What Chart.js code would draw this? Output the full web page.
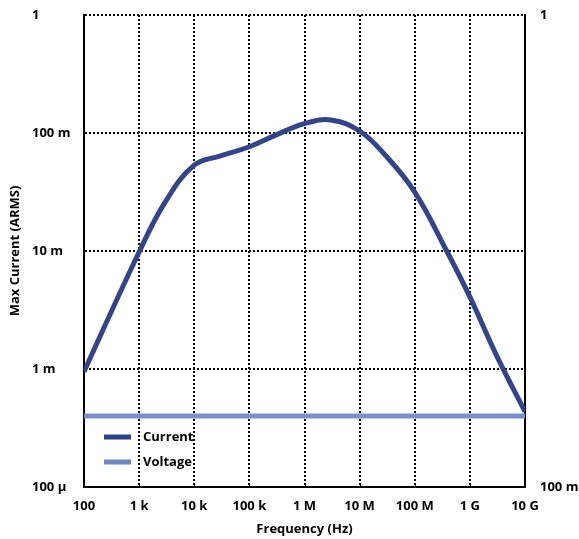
<!DOCTYPE html>
<html>
<head>
<meta charset="utf-8">
<script src="https://cdn.jsdelivr.net/npm/chart.js@4"></script>
<style>
html,body{margin:0;padding:0;background:#fff;}
#wrap{width:579px;height:539px;}
</style>
</head>
<body>
<div id="wrap"><canvas id="c"></canvas></div>
<script>
// Data
const freqHz = [100, 1000, 3000, 10000, 30000, 100000, 300000, 1e6, 3e6, 1e7, 3e7, 1e8, 3.8e8, 1e9, 3.1e9, 1e10];
const currentA = [0.95e-3, 9.8e-3, 0.0262, 0.0534, 0.064, 0.0765, 0.096, 0.12, 0.129, 0.104, 0.064, 0.0316, 0.010, 4.08e-3, 1.28e-3, 0.435e-3];
const voltageFreqHz = [100, 1e10];
const voltageV = [0.1414, 0.1414];
const xTicks = [1e2, 1e3, 1e4, 1e5, 1e6, 1e7, 1e8, 1e9, 1e10];
const xTickLabels = ['100', '1 k', '10 k', '100 k', '1 M', '10 M', '100 M', '1 G', '10 G'];
const yTicks = [1e-4, 1e-3, 1e-2, 1e-1, 1];
const yTickLabels = ['100 µ', '1 m', '10 m', '100 m', '1'];
const y2Ticks = [0.1, 1];
const y2TickLabels = ['100 m', '1'];

const FONT = {family: "'Open Sans', sans-serif", size: 13, weight: 'bold'};
const dotted = [2, 2];

function fixedTicks(values) {
  return function(scale) { scale.ticks = values.map(v => ({value: v})); };
}
function labelFor(values, labels) {
  return function(v) { const i = values.findIndex(t => Math.abs(Math.log10(t) - Math.log10(v)) < 1e-6); return i >= 0 ? labels[i] : ''; };
}
function fitBox(w, h) {
  return function(s) {
    if (w !== null) s.width = w;
    if (h !== null) s.height = h;
    s.paddingTop = 0; s.paddingBottom = 0; s.paddingLeft = 0; s.paddingRight = 0;
  };
}

const legendPlugin = {
  id: 'insideLegend',
  afterDatasetsDraw(chart) {
    const ctx = chart.ctx, area = chart.chartArea;
    ctx.save();
    chart.data.datasets.forEach((ds, i) => {
      const y = area.bottom - 50 + i * 25;
      ctx.fillStyle = ds.legendColor;
      ctx.fillRect(area.left + 20, y - 2.5, 27, 5);
      ctx.fillStyle = '#000';
      ctx.font = "bold 13px 'Open Sans', sans-serif";
      ctx.textBaseline = 'middle';
      ctx.textAlign = 'left';
      ctx.fillText(ds.label, area.left + 59, y + 0.5);
    });
    ctx.restore();
  }
};

const bottomTicksPlugin = {
  id: 'bottomTicks',
  afterDraw(chart) {
    const ctx = chart.ctx, xs = chart.scales.x, area = chart.chartArea;
    ctx.save();
    ctx.strokeStyle = '#000';
    ctx.lineWidth = 1;
    xTicks.forEach(v => {
      const px = Math.round(xs.getPixelForValue(v)) + 0.5;
      ctx.beginPath();
      ctx.moveTo(px, area.bottom);
      ctx.lineTo(px, area.bottom - 4);
      ctx.stroke();
    });
    ctx.restore();
  }
};

new Chart(document.getElementById('c'), {
  type: 'line',
  data: {
    datasets: [
      {
        label: 'Current',
        data: freqHz.map((f, i) => ({x: f, y: currentA[i]})),
        borderColor: '#32458a',
        legendColor: '#2e4285',
        borderWidth: 5,
        pointRadius: 0,
        tension: 0.4,
        yAxisID: 'y'
      },
      {
        label: 'Voltage',
        data: voltageFreqHz.map((f, i) => ({x: f, y: voltageV[i]})),
        borderColor: '#7790cc',
        legendColor: '#6d86c6',
        borderWidth: 5,
        pointRadius: 0,
        yAxisID: 'y2'
      }
    ]
  },
  options: {
    responsive: true,
    maintainAspectRatio: false,
    animation: false,
    devicePixelRatio: 1,
    layout: {padding: {left: 32, top: 15, right: 0, bottom: 0}},
    plugins: {legend: {display: false}, tooltip: {enabled: false}},
    scales: {
      x: {
        type: 'logarithmic',
        min: 1e2, max: 1e10,
        afterBuildTicks: fixedTicks(xTicks),
        afterFit: fitBox(null, 52),
        grid: {color: '#000', lineWidth: 2, drawTicks: false},
        border: {display: true, color: '#000', width: 2, dash: dotted},
        ticks: {color: '#000', font: FONT, padding: 11, maxRotation: 0, autoSkip: false,
          callback: labelFor(xTicks, xTickLabels)},
        title: {display: true, text: 'Frequency (Hz)', color: '#000', font: FONT, padding: {top: 0, bottom: 2}}
      },
      y: {
        type: 'logarithmic',
        position: 'left',
        min: 1e-4, max: 1,
        afterBuildTicks: fixedTicks(yTicks),
        afterFit: fitBox(52, null),
        grid: {color: '#000', lineWidth: 2, drawTicks: false},
        border: {display: true, color: '#000', width: 2, dash: dotted},
        ticks: {color: '#000', font: FONT, crossAlign: 'far', padding: 10, autoSkip: false,
          callback: labelFor(yTicks, yTickLabels)},
        title: {display: true, text: 'Max Current (ARMS)', color: '#000', font: FONT, padding: {top: -25, bottom: 0}}
      },
      y2: {
        type: 'logarithmic',
        position: 'right',
        min: 0.1, max: 1,
        afterBuildTicks: fixedTicks(y2Ticks),
        afterFit: fitBox(54, null),
        grid: {display: false, drawTicks: false},
        border: {display: true, color: '#000', width: 2, dash: dotted},
        ticks: {color: '#000', font: FONT, padding: 15, autoSkip: false,
          callback: labelFor(y2Ticks, y2TickLabels)}
      }
    }
  },
  plugins: [legendPlugin, bottomTicksPlugin]
});
</script>
</body>
</html>
